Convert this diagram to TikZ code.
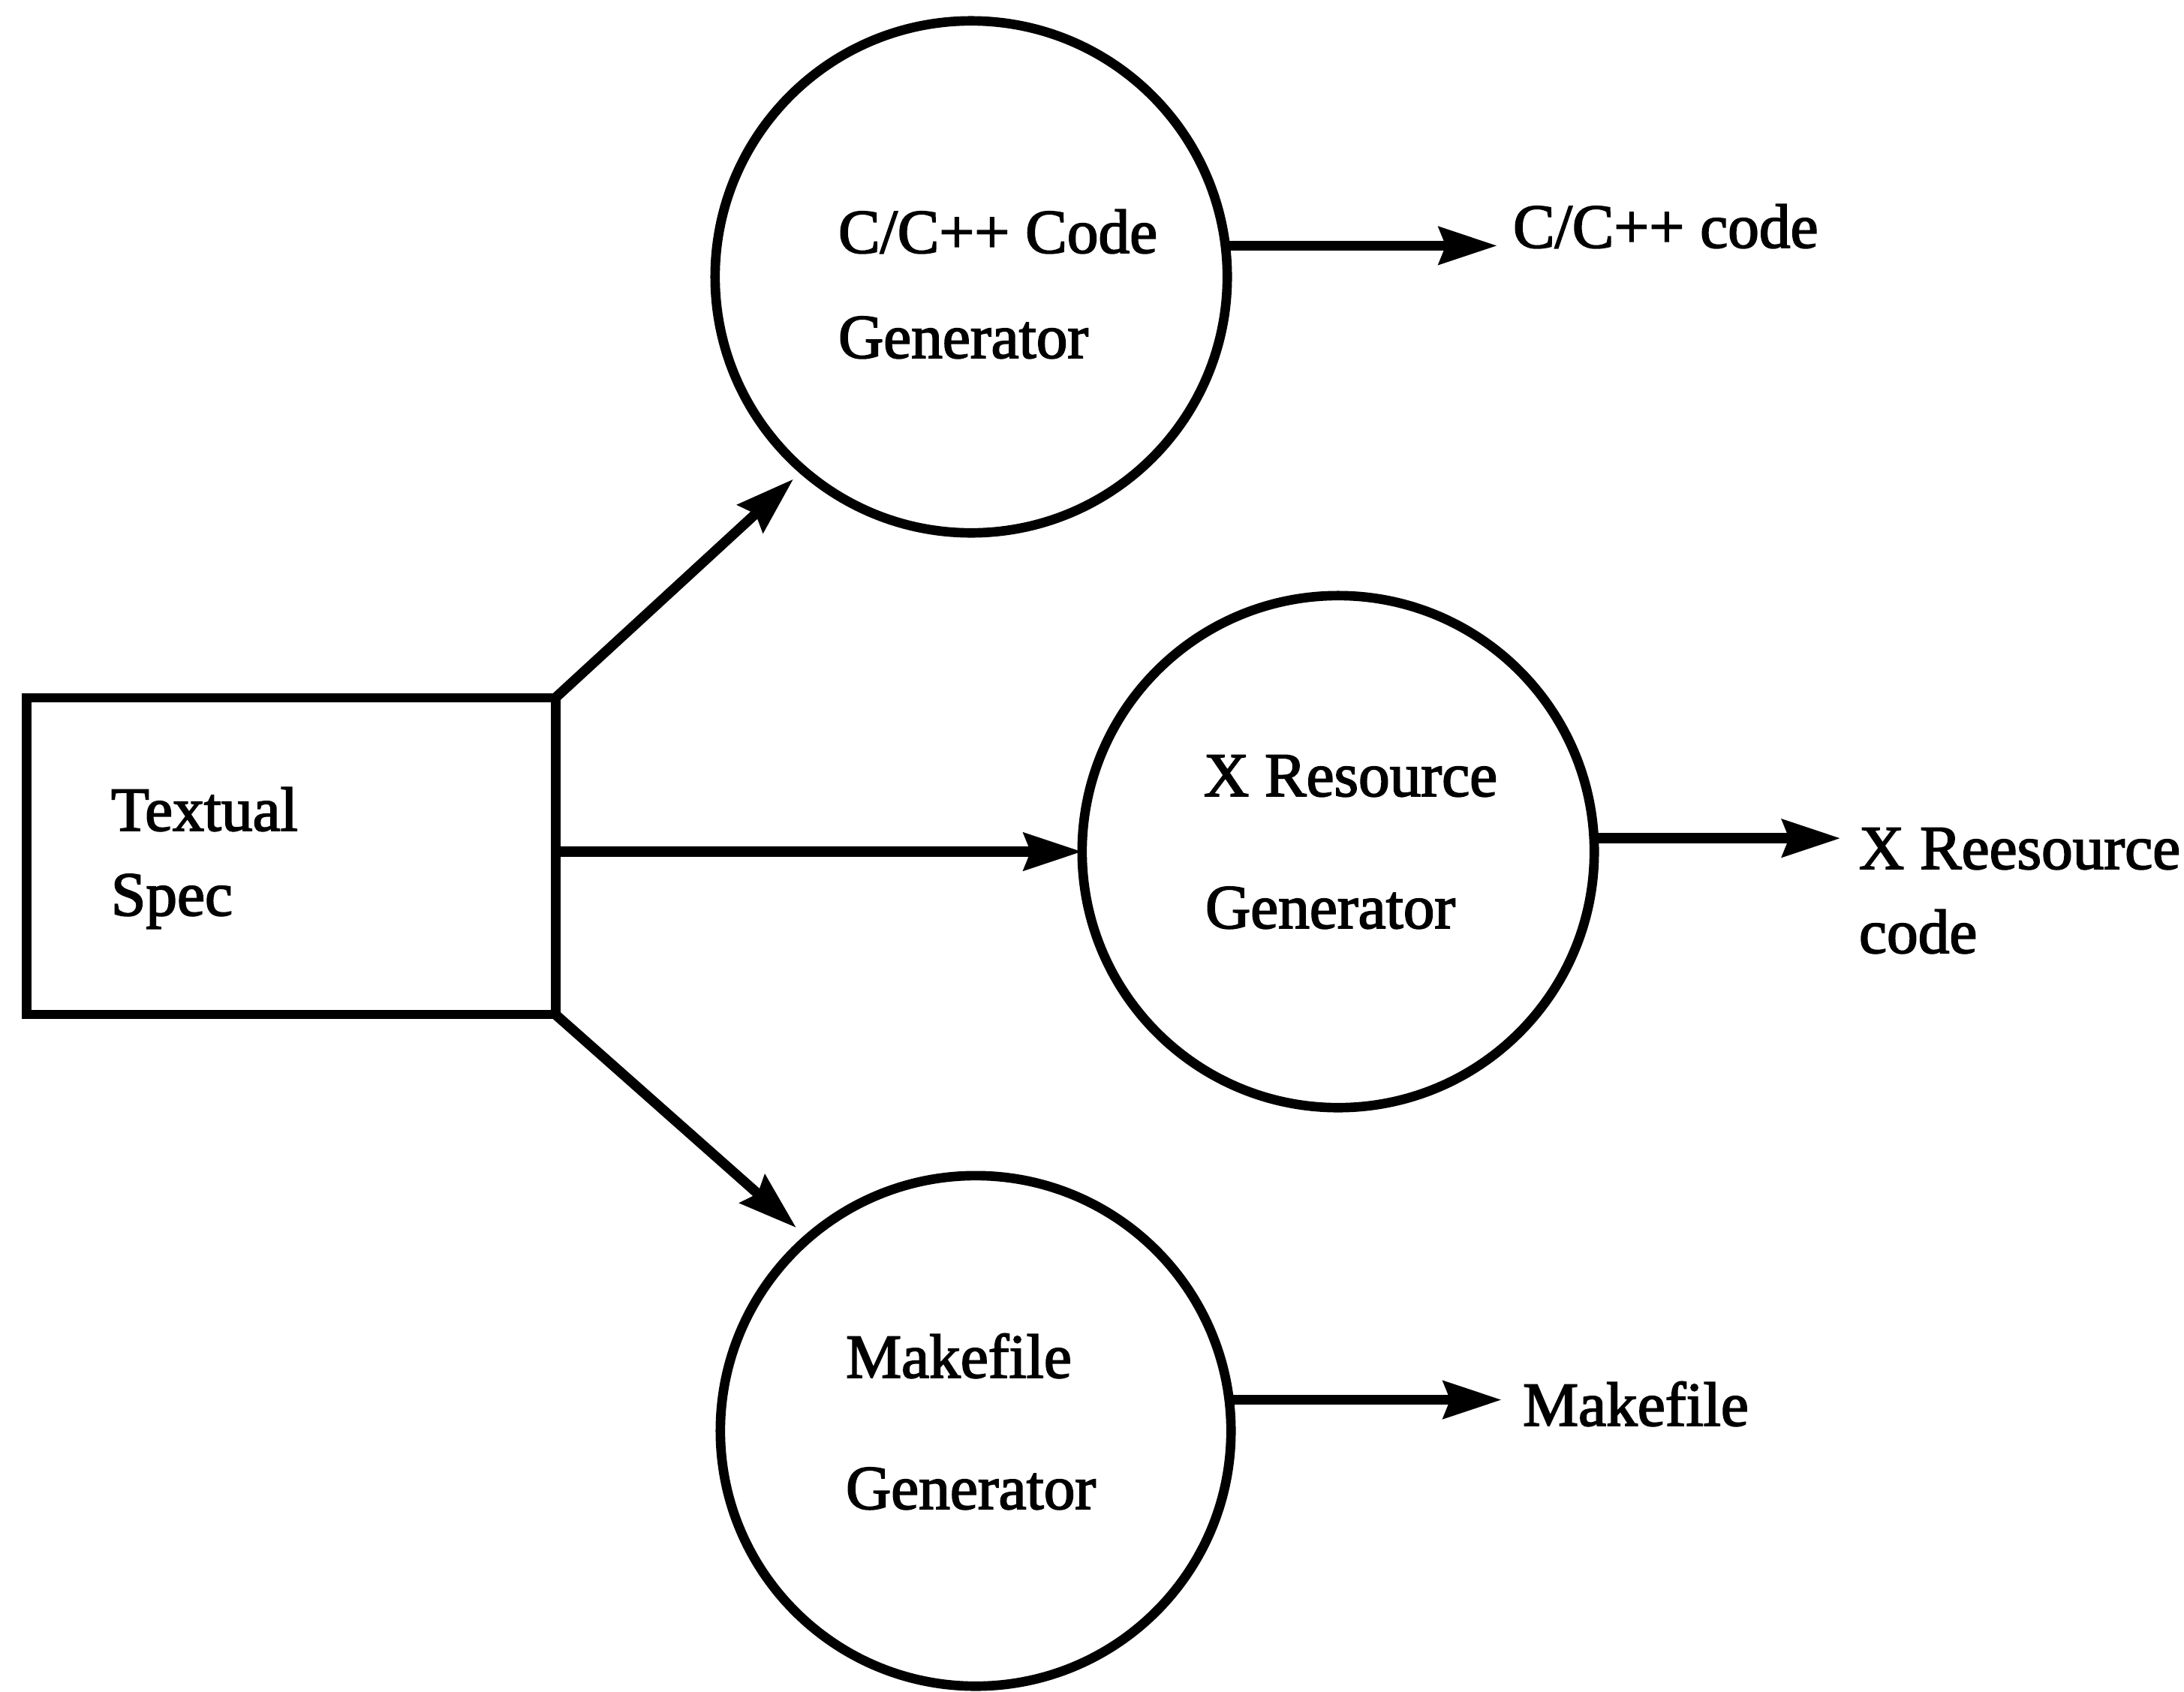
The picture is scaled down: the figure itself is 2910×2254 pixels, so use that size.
\documentclass[tikz,border=0pt]{standalone}
\usepackage{fontspec}
\setmainfont{Liberation Serif}[FakeBold=2.2]
\usetikzlibrary{arrows.meta}
\begin{document}
\begin{tikzpicture}[x=0.01cm,y=-0.01cm,
  every node/.style={inner sep=0pt, outer sep=0pt},
  lbl/.style={anchor=base west, font=\fontsize{23.7pt}{28pt}\selectfont},
  gen/.style={circle, draw, line width=3.6pt},
  box/.style={rectangle, draw, line width=3.6pt, minimum width=7.04cm, minimum height=4.22cm},
  flow/.style={line width=3.8pt, -{Stealth[length=22pt,width=14pt,inset=2.5pt]}}]
\useasboundingbox (0,0) rectangle (2910,2254);

% input specification
\node[box] (spec) at (388,1141) {};
\node[lbl] (specA) at (148,1107) {Textual};
\node[lbl] (specB) at (148,1220) {Spec};

% generators
\node[gen, minimum size=6.82cm] (cgen) at (1294,369) {};
\node[lbl] (cgenA) at (1117,337) {C/C++ Code};
\node[lbl] (cgenB) at (1117,477) {Generator};

\node[gen, minimum size=6.82cm] (xgen) at (1783,1135) {};
\node[lbl] (xgenA) at (1604,1061) {X Resource};
\node[lbl] (xgenB) at (1606,1237) {Generator};

\node[gen, minimum size=6.8cm] (mgen) at (1300,1907) {};
\node[lbl] (mgenA) at (1127,1836) {Makefile};
\node[lbl] (mgenB) at (1127,2011) {Generator};

% outputs
\node[lbl] (cout) at (2016,330) {C/C++ code};
\node[lbl] (xoutA) at (2477,1158) {X Reesource};
\node[lbl] (xoutB) at (2477,1270) {code};
\node[lbl] (mout) at (2029,1900) {Makefile};

% connectors
\draw[flow, shorten >=5pt] (spec.north east) -- (cgen.229);
\draw[flow] (xgen.west -| spec.east) -- (xgen.west);
\draw[flow, shorten >=6pt] (spec.south east) -- (mgen.131);

\draw[flow, shorten >=6pt] (cgen.7) -- (cgen.7 -| cout.west);
\draw[flow, shorten >=7pt] (xgen.3) -- (xgen.3 -| xoutA.west);
\draw[flow, shorten >=8pt] (mgen.7) -- (mgen.7 -| mout.west);
\end{tikzpicture}
\end{document}
